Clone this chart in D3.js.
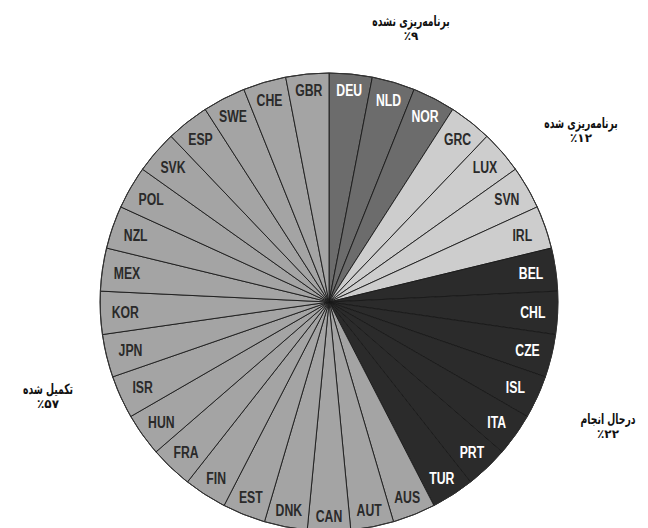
<!DOCTYPE html>
<html>
<head>
<meta charset="utf-8">
<script src="https://cdn.jsdelivr.net/npm/d3@7"></script>
<style>
  body { margin: 0; background: #fff; }
  .slice-label { font-family: "Liberation Sans", Arial, sans-serif; font-size: 17px; font-weight: bold; }
  .group-title { font-family: "DejaVu Sans", sans-serif; font-weight: bold; font-size: 14px; fill: #111; }
</style>
</head>
<body>
<div id="chart"></div>
<script>
// countries clockwise from 12 o'clock, with their status group
const countries = ["DEU", "NLD", "NOR", "GRC", "LUX", "SVN", "IRL", "BEL", "CHL", "CZE", "ISL", "ITA", "PRT", "TUR",
  "AUS", "AUT", "CAN", "DNK", "EST", "FIN", "FRA", "HUN", "ISR", "JPN", "KOR", "MEX", "NZL", "POL", "SVK", "ESP", "SWE", "CHE", "GBR"];
const status = ["unplanned", "unplanned", "unplanned", "planned", "planned", "planned", "planned",
  "progress", "progress", "progress", "progress", "progress", "progress", "progress",
  "done", "done", "done", "done", "done", "done", "done", "done", "done", "done", "done", "done", "done", "done", "done", "done", "done", "done", "done"];
const groups = ["unplanned", "planned", "progress", "done"];
const groupTitles = ["برنامه‌ریزی نشده", "برنامه‌ریزی شده", "درحال انجام", "تکمیل شده"];
const groupShares = ["٪۹", "٪۱۲", "٪۲۲", "٪۵۷"];

const w = 648;
const h = 528;
const cx = 329;
const cy = 302;
const radius = 229;

const fill = d3.scaleOrdinal().domain(groups).range(["#6c6c6c", "#cdcdcd", "#2b2b2b", "#a4a4a4"]);
const textColor = d3.scaleOrdinal().domain(groups).range(["#fff", "#2a2a2a", "#fff", "#2a2a2a"]);

const data = countries.map((c, i) => ({ name: c, status: status[i] }));

const svg = d3.select("#chart")
  .append("svg")
  .attr("width", w)
  .attr("height", h);

const pie = d3.pie().value(1).sort(null);
const arc = d3.arc().innerRadius(0).outerRadius(radius);

const g = svg.append("g").attr("transform", `translate(${cx}, ${cy})`);

g.selectAll("path")
  .data(pie(data))
  .enter()
  .append("path")
  .attr("d", arc)
  .attr("fill", d => fill(d.data.status))
  .attr("stroke", "#1a1a1a")
  .attr("stroke-width", 0.9);

g.append("circle")
  .attr("r", radius)
  .attr("fill", "none")
  .attr("stroke", "#333")
  .attr("stroke-width", 1);

g.selectAll("text.slice-label")
  .data(pie(data))
  .enter()
  .append("text")
  .attr("class", "slice-label")
  .attr("text-anchor", "middle")
  .attr("dy", "0.36em")
  .attr("fill", d => textColor(d.data.status))
  .attr("transform", d => {
    const a = (d.startAngle + d.endAngle) / 2;
    const r = 214 - 10 * Math.abs(Math.sin(a));
    return `translate(${r * Math.sin(a)}, ${-r * Math.cos(a)}) scale(0.72, 1)`;
  })
  .text(d => d.data.name);

// group titles with their shares
const titlePos = [[411, 26], [581, 128], [608, 424], [48, 394]];

const titles = svg.selectAll("g.group-title")
  .data(groups)
  .enter()
  .append("g")
  .attr("transform", (d, i) => `translate(${titlePos[i][0]}, ${titlePos[i][1]})`);

titles.append("text")
  .attr("class", "group-title")
  .attr("text-anchor", "middle")
  .attr("direction", "rtl")
  .attr("transform", "scale(0.66, 1)")
  .text((d, i) => groupTitles[i]);

titles.append("text")
  .attr("class", "group-title")
  .attr("text-anchor", "middle")
  .attr("direction", "ltr")
  .attr("y", 14)
  .style("font-size", "12px")
  .text((d, i) => groupShares[i]);
</script>
</body>
</html>
